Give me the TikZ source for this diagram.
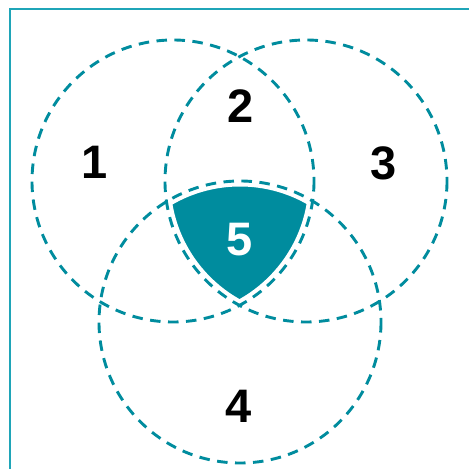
\documentclass[tikz,border=0pt]{standalone}
\usepackage{fontspec}
\setmainfont{Liberation Sans}
\definecolor{teal1}{HTML}{008C9E}
\definecolor{frameC}{HTML}{1FA5B8}
\begin{document}
\begin{tikzpicture}[x=1pt,y=-1pt,
  ring/.style={draw=teal1,line width=2.9pt,dash pattern=on 10.5pt off 7.5pt},
  gapring/.style={draw=white,line width=11pt},
  num/.style={font=\fontsize{47}{47}\selectfont\bfseries,inner sep=0pt},
  frameline/.style={draw=frameC,line width=1.4pt}]
\useasboundingbox (0,0) rectangle (469,469);
\coordinate (c1) at (173,181);
\coordinate (c3) at (306,181);
\coordinate (c4) at (240,322);
\coordinate (tl) at (10,9);
\coordinate (tr) at (469,9);
\coordinate (bl) at (10,469);
\draw[frameline] (tr) -- (tl) -- (bl);
\begin{scope}
  \clip (c1) circle (141);
  \clip (c3) circle (141);
  \fill[teal1] (c4) circle (141);
\end{scope}
\draw[gapring] (c1) circle (141);
\draw[gapring] (c3) circle (141);
\draw[gapring] (c4) circle (141);
\draw[ring] (c1) circle (141);
\draw[ring] (c3) circle (141);
\draw[ring] (c4) circle (141);
\node[num] (n1) at (95,162) {1};
\node[num] (n2) at (241,106) {2};
\node[num] (n3) at (384,163) {3};
\node[num] (n4) at (239,406) {4};
\node[num,text=white] (n5) at (240,240) {5};
\end{tikzpicture}
\end{document}
